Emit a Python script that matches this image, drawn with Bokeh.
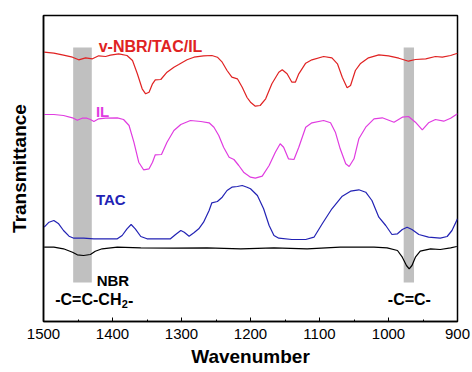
from bokeh.plotting import figure
from bokeh.models import Range1d, SingleIntervalTicker, FixedTicker
from bokeh.core.properties import value
from bokeh.embed import file_html
from bokeh.resources import INLINE

# ---------------- data (wavenumber, transmittance a.u. with offsets) ----------------
wn_vnbr = [1499, 1485, 1471, 1458, 1449, 1439, 1429, 1420, 1410, 1403, 1391, 1379, 1371, 1364, 1357, 1352,
           1347, 1342, 1338, 1330, 1321, 1311, 1304, 1292, 1282, 1268, 1256, 1248, 1241, 1234, 1227, 1219,
           1212, 1205, 1200, 1193, 1186, 1178, 1169, 1159, 1154, 1147, 1140, 1135, 1130, 1120, 1111, 1094,
           1082, 1074, 1067, 1060, 1055, 1048, 1041, 1029, 1014, 1000, 985, 971, 961, 946, 932, 922, 910, 900]
t_vnbr = [269.3, 268.3, 266.3, 264.3, 261.7, 263.7, 262.7, 265.7, 265, 266.3, 267.7, 266, 261, 247.7, 232.7,
          227.7, 229.3, 237.7, 241.7, 242, 249.3, 254.3, 257, 261.7, 264.3, 265.7, 266, 264.3, 259.3, 251,
          244.3, 242.7, 234.3, 224, 219.3, 215.3, 216, 222.7, 237.7, 249.3, 251.7, 247.7, 239.3, 239.3, 247.7,
          258.3, 261.7, 265, 263.7, 257.7, 244.3, 233.7, 236, 251, 257.7, 263.7, 266.7, 265.7, 263.3, 260.3,
          262, 262.7, 265, 264.3, 266, 268.3]

wn_il = [1499, 1485, 1471, 1458, 1451, 1444, 1437, 1432, 1427, 1420, 1410, 1393, 1384, 1376, 1369, 1362, 1355,
         1347, 1342, 1338, 1329, 1321, 1311, 1301, 1287, 1272, 1260, 1253, 1246, 1239, 1231, 1224, 1217, 1210,
         1207, 1200, 1193, 1183, 1173, 1164, 1157, 1152, 1145, 1137, 1130, 1120, 1111, 1094, 1084, 1077, 1070,
         1062, 1057, 1050, 1043, 1033, 1021, 1009, 992, 980, 971, 961, 951, 942, 932, 920, 910, 900]
t_il = [207, 207, 206, 203.7, 201.3, 203.3, 203.3, 202, 200, 202.7, 203.3, 203.7, 202, 196, 179.3, 159.3, 151.7,
        152.7, 159.3, 166.7, 167, 179.3, 191, 197, 201, 200, 198.7, 194.3, 186, 174.3, 164.3, 162, 156, 149.3,
        147.7, 144.3, 143.3, 145.3, 156, 169.3, 177.7, 174.3, 162.7, 162, 174.3, 194.3, 198.7, 201, 198.7, 189.3,
        172.7, 157.7, 155, 162.7, 182.7, 194.3, 202.7, 203.7, 199.3, 204.3, 205, 199.3, 191.7, 198.7, 202, 200.3,
        203.3, 207.7]

wn_tac = [1499, 1492, 1485, 1478, 1471, 1463, 1456, 1442, 1427, 1408, 1393, 1386, 1379, 1373, 1367, 1359, 1350,
          1330, 1316, 1309, 1301, 1296, 1289, 1282, 1275, 1268, 1260, 1256, 1248, 1241, 1234, 1227, 1219, 1212,
          1205, 1200, 1190, 1181, 1173, 1166, 1159, 1140, 1120, 1108, 1096, 1082, 1067, 1055, 1043, 1033, 1024,
          1014, 1004, 995, 987, 980, 973, 966, 956, 942, 925, 915, 908, 900]
t_tac = [94.3, 99.3, 101, 97.7, 91, 85.3, 83.3, 83.3, 82.7, 82.7, 82.7, 86, 92.7, 97, 92.7, 85, 82.7, 82.7, 82.7,
         86.7, 91, 89.3, 85.3, 88.7, 92.7, 99.3, 111, 118.7, 120, 124.3, 131, 134.3, 135, 136, 134.3, 132.7, 126,
         112.7, 96, 86, 83.3, 82, 82, 84.3, 97.7, 112.7, 125.3, 130.3, 131.7, 129.3, 121, 104.3, 96, 87, 87.7, 92,
         94.3, 92, 87, 84.3, 83.3, 85, 91, 102.7]

wn_nbr = [1499, 1485, 1471, 1458, 1451, 1442, 1432, 1425, 1415, 1393, 1359, 1311, 1263, 1214, 1166, 1118, 1070,
          1021, 1002, 987, 980, 974, 970, 966, 961, 954, 939, 925, 910, 901]
t_nbr = [74.3, 74.3, 72.7, 69.3, 66.7, 66, 67, 70.3, 72.7, 74.3, 73.7, 73.3, 73.7, 72.7, 73.7, 72.7, 74.3, 74.3,
         73.7, 71, 64.3, 56, 52.7, 56, 64.3, 70.3, 72.7, 72, 73.7, 75]

# highlighted bands
band_left = [1457, 978]
band_right = [1430, 963]
band_top = [274, 274]
band_bottom = [39, 39]

# series labels
series_names = ["v-NBR/TAC/IL", "IL", "TAC", "NBR"]
series_colors = ["#e02222", "#e03ce0", "#2222b4", "#000000"]
label_x = [1420, 1424, 1424, 1423]
label_y = [275, 210.3, 122, 41]
label_size = ["16px", "15px", "15px", "15px"]

x_ticks_interval = 100

# ---------------- figure ----------------
p = figure(width=472, height=372, x_range=Range1d(1500, 900), y_range=Range1d(0, 306),
           output_backend="svg", toolbar_location=None,
           min_border_left=43, min_border_right=15, min_border_top=15, min_border_bottom=51)
p.xgrid.visible = False
p.ygrid.visible = False
p.outline_line_color = "black"
p.outline_line_width = 1.5
p.outline_line_alpha = 1
p.background_fill_color = "white"
p.border_fill_color = "white"

p.quad(left=band_left, right=band_right, top=band_top, bottom=band_bottom,
       fill_color="#c0c0c0", line_color=None)

curves = [(wn_vnbr, t_vnbr), (wn_il, t_il), (wn_tac, t_tac), (wn_nbr, t_nbr)]
for (xs, ys), c in zip(curves, series_colors):
    p.line(xs, ys, line_color=c, line_width=1.2)

for name, c, lx, ly, sz in zip(series_names, series_colors, label_x, label_y, label_size):
    p.text(x=[lx], y=[ly], text=[name], text_color=c, text_font=value("Liberation Sans"),
           text_font_style="bold", text_font_size=sz, text_align="left", text_baseline="alphabetic")

# chemical group labels
chem_x = [1483, 1001]
chem_y = [22, 22]
p.text(x=[chem_x[0]], y=[chem_y[0]], text=["-C=C-CH"], text_color="black",
       text_font=value("Liberation Sans"), text_font_style="bold", text_font_size="16px",
       text_align="left", text_baseline="alphabetic")
p.text(x=[chem_x[0]], y=[chem_y[0]], text=["2"], text_color="black", x_offset=66.5, y_offset=4,
       text_font=value("Liberation Sans"), text_font_style="bold", text_font_size="11px",
       text_align="left", text_baseline="alphabetic")
p.text(x=[chem_x[0]], y=[chem_y[0]], text=["-"], text_color="black", x_offset=72.8,
       text_font=value("Liberation Sans"), text_font_style="bold", text_font_size="16px",
       text_align="left", text_baseline="alphabetic")
p.text(x=[chem_x[1]], y=[chem_y[1]], text=["-C=C-"], text_color="black",
       text_font=value("Liberation Sans"), text_font_style="bold", text_font_size="16px",
       text_align="left", text_baseline="alphabetic")

# axes
xa = p.xaxis[0]
xa.ticker = SingleIntervalTicker(interval=x_ticks_interval, num_minor_ticks=2)
xa.major_tick_in = 4
xa.major_tick_out = 0
xa.minor_tick_in = 2
xa.minor_tick_out = 0
xa.major_tick_line_color = "black"
xa.minor_tick_line_color = "black"
xa.axis_line_color = "black"
xa.axis_line_width = 1.5
xa.major_label_text_font = "Liberation Sans"
xa.major_label_text_font_size = "15px"
xa.major_label_text_color = "black"
xa.major_label_standoff = 7
xa.axis_label = "Wavenumber"
xa.axis_label_text_font = "Liberation Sans"
xa.axis_label_text_font_style = "bold"
xa.axis_label_text_font_size = "19px"
xa.axis_label_text_color = "black"
xa.axis_label_standoff = 4

ya = p.yaxis[0]
ya.ticker = FixedTicker(ticks=[])
ya.major_tick_line_color = None
ya.minor_tick_line_color = None
ya.major_label_text_font_size = "0px"
ya.axis_line_color = "black"
ya.axis_line_width = 1.5
ya.axis_label = "Transmittance"
ya.axis_label_text_font = "Liberation Sans"
ya.axis_label_text_font_style = "bold"
ya.axis_label_text_font_size = "19px"
ya.axis_label_text_color = "black"
ya.axis_label_standoff = 14

open("out.html", "w").write(file_html(p, INLINE))
